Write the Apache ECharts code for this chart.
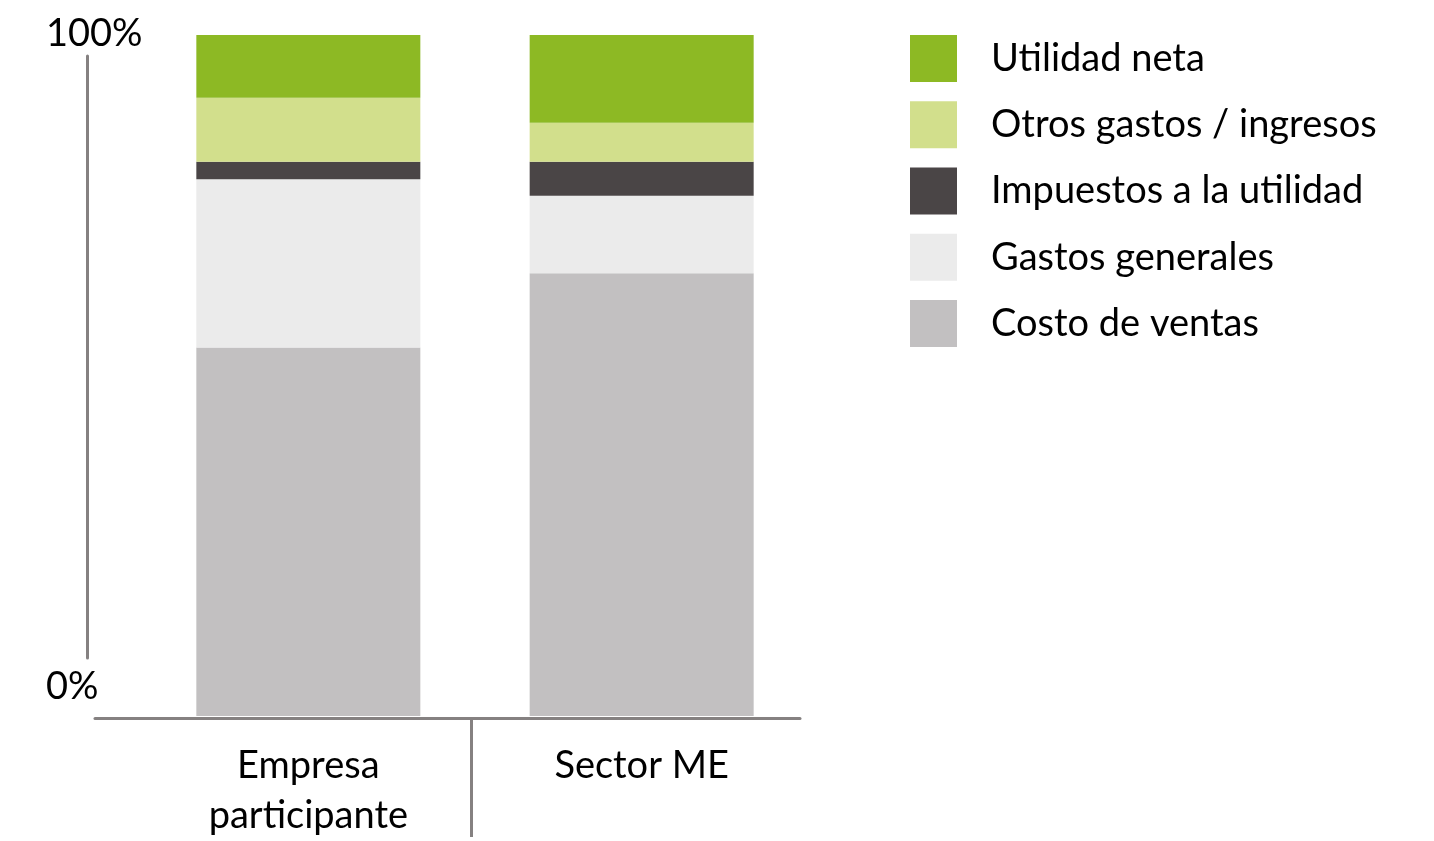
<!DOCTYPE html>
<html>
<head>
<meta charset="utf-8">
<title>Estructura de resultados</title>
<script src="https://cdn.jsdelivr.net/npm/echarts@6/dist/echarts.min.js"></script>
<style>
  html, body { margin: 0; padding: 0; background: #fff; }
  #chart { width: 1434px; height: 841px; }
</style>
</head>
<body>
<div id="chart"></div>
<script>
// datos (porcentaje de ventas)
var categorias = ['Empresa\nparticipante', 'Sector ME'];
var posiciones = [1, 2];
var costoVentas = [54.1, 65.0];
var gastosGenerales = [24.7, 11.4];
var impuestos = [2.6, 5.0];
var otrosGastos = [9.4, 5.7];
var utilidadNeta = [9.2, 12.9];
var separadores = [1.49];

var fuente = 'Lato';
var gris = '#858181';

function serie(nombre, valores, color) {
    return {
        name: nombre,
        type: 'bar',
        stack: 'total',
        barWidth: 224,
        xAxisIndex: 0,
        yAxisIndex: 0,
        itemStyle: { color: color },
        emphasis: { disabled: true },
        // valor primero para que el apilado se haga sobre el eje y
        encode: { x: 1, y: 0 },
        data: valores.map(function (v, i) { return [v, posiciones[i]]; })
    };
}

var myChart = echarts.init(document.getElementById('chart'));

var option = {
    animation: false,
    backgroundColor: '#fff',
    grid: [
        { left: 95, right: 634, top: 35, bottom: 122 },
        { left: 87, width: 20, top: 56, bottom: 183 }
    ],
    legend: {
        orient: 'vertical',
        left: 910,
        top: 35,
        padding: 0,
        itemWidth: 47,
        itemHeight: 47,
        itemGap: 19.25,
        icon: 'rect',
        selectedMode: false,
        data: ['Utilidad neta', 'Otros gastos / ingresos', 'Impuestos a la utilidad',
            'Gastos generales', 'Costo de ventas'],
        textStyle: {
            fontFamily: fuente,
            fontSize: 38,
            color: '#000',
            padding: [6, 0, 0, 29]
        }
    },
    xAxis: [
        {
            gridIndex: 0,
            type: 'value',
            min: 0.36,
            max: 2.475,
            offset: 2,
            z: 3,
            splitLine: { show: false },
            axisLine: { show: true, onZero: false, lineStyle: { color: gris, width: 3 } },
            axisTick: {
                show: true,
                customValues: separadores,
                length: 119,
                lineStyle: { color: gris, width: 3 }
            },
            axisLabel: {
                customValues: posiciones,
                formatter: function (v) { return categorias[posiciones.indexOf(v)]; },
                margin: 23,
                verticalAlign: 'top',
                fontFamily: fuente,
                fontSize: 38,
                lineHeight: 50,
                color: '#000'
            }
        },
        { gridIndex: 1, type: 'value', show: false }
    ],
    yAxis: [
        {
            gridIndex: 0,
            type: 'value',
            min: 0,
            max: 100,
            interval: 100,
            axisLine: { show: false },
            axisTick: { show: false },
            splitLine: { show: false },
            axisLabel: {
                margin: 49,
                align: 'left',
                formatter: function (v) { return v === 0 ? '{b|0%}' : '{a|100%}'; },
                rich: {
                    a: { fontFamily: fuente, fontSize: 38, color: '#000', padding: [0, 0, 2, 0] },
                    b: { fontFamily: fuente, fontSize: 38, color: '#000', padding: [0, 0, 58, 0] }
                }
            }
        },
        {
            gridIndex: 1,
            type: 'value',
            axisLine: { show: true, lineStyle: { color: gris, width: 3 } },
            axisTick: { show: false },
            axisLabel: { show: false },
            splitLine: { show: false }
        }
    ],
    series: [
        serie('Costo de ventas', costoVentas, '#c2c0c1'),
        serie('Gastos generales', gastosGenerales, '#ebebeb'),
        serie('Impuestos a la utilidad', impuestos, '#4a4546'),
        serie('Otros gastos / ingresos', otrosGastos, '#d2df8c'),
        serie('Utilidad neta', utilidadNeta, '#8db924')
    ]
};

myChart.setOption(option);
</script>
</body>
</html>
